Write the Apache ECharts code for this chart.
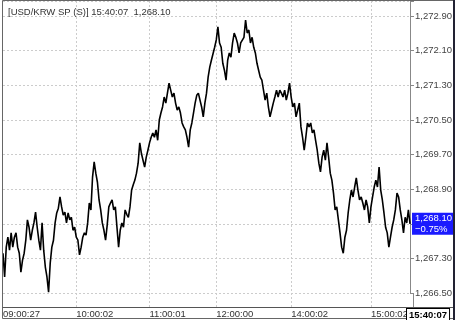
<!DOCTYPE html>
<html>
<head>
<meta charset="utf-8">
<script src="https://cdn.jsdelivr.net/npm/echarts@6/dist/echarts.min.js"></script>
<style>
html,body{margin:0;padding:0;background:#fff;}
#chart{width:455px;height:320px;}
</style>
</head>
<body>
<div id="chart"></div>
<script>
const titleText = '[USD/KRW SP (S)] 15:40:07  1,268.10';
const lastTime = '15:40:07';
const lastValueText = '1,268.10';
const changeText = '\u22120.75%';

const tickIndex = [0, 45, 90, 131, 177, 226];
const tickLabels = ['09:00:27', '10:00:02', '11:00:01', '12:00:00', '14:00:02', '15:00:02'];

const yMin = 1266.5;
const yMax = 1273.25;
const yStep = 0.8;

const prices = [
  1267.42,1266.87,1267.56,1267.79,1267.49,1267.89,1267.56,1267.79,1267.89,1267.56,
  1267.42,1266.98,1267.26,1267.42,1267.72,1268.19,1268.02,1267.72,1267.95,1268.12,
  1268.37,1268.02,1267.72,1267.49,1268.12,1267.49,1267.10,1266.87,1266.52,1267.19,
  1267.56,1267.72,1268.12,1268.35,1268.46,1268.72,1268.49,1268.30,1268.37,1268.12,
  1268.35,1268.19,1268.25,1267.95,1268.02,1267.79,1267.72,1267.38,1267.56,1267.79,
  1267.89,1267.84,1268.12,1268.58,1268.42,1269.18,1269.53,1269.27,
  1269.06,1268.65,1268.42,1268.12,1267.95,1267.72,1268.07,1268.49,1268.58,1268.65,
  1268.42,1268.49,1268.02,1267.56,1267.95,1268.12,1268.02,1268.42,1268.32,1268.25,
  1268.49,1268.88,1269.00,1269.11,1269.27,1269.50,1269.97,1269.73,1269.57,1269.41,
  1269.64,1269.80,1269.97,1270.10,1270.20,1270.10,1270.27,1270.03,1270.50,1270.66,
  1270.80,1271.03,1270.89,1271.12,1271.35,1271.19,1271.03,1271.12,1270.89,1270.73,
  1270.80,1270.66,1270.43,1270.34,1270.27,1270.10,1269.87,1270.27,1270.43,1270.66,
  1270.89,1271.07,1271.12,1270.96,1270.80,1270.57,1270.89,
  1271.12,1271.49,1271.72,1271.88,1271.88,1272.18,1272.35,1272.65,1272.28,1272.18,
  1271.81,1271.65,1271.42,1271.88,1272.05,1271.95,1272.28,1272.51,1272.41,1272.28,
  1272.05,1272.28,1272.28,1272.41,1272.81,1272.51,1272.58,1272.28,1272.41,1272.18,
  1272.05,1271.81,1271.65,1271.49,1271.42,1271.19,1270.96,1271.12,1270.80,1270.57,
  1270.73,1270.89,1271.03,1271.19,1271.03,1271.19,1271.12,1271.03,1271.19,1270.96,
  1271.12,1271.35,1271.03,1270.80,1270.89,1270.57,1270.73,1270.89,1270.34,1270.10,
  1269.80,
  1270.10,1270.43,1270.34,1270.43,1270.20,1270.27,1270.03,1269.80,1269.50,1269.30,
  1269.64,1269.80,1269.57,1269.97,1269.64,1269.27,1269.11,1268.81,1268.42,1268.49,
  1268.19,1267.89,1267.56,1267.42,1267.79,1267.95,1268.35,1268.65,1268.88,1268.72,
  1268.95,1269.16,1268.88,1268.65,1268.72,1268.58,1268.42,1268.65,1268.49,1268.12,
  1268.49,1268.72,1268.95,1269.11,1268.95,1269.41,1268.88,1268.65,1268.35,1268.02,
  1267.89,1267.56,1267.79,1268.02,1268.19,1268.42,1268.81,1268.72,1268.42,1268.19,
  1267.89,1268.25,1268.12,1268.42,1268.10
];

const categories = prices.map((_, i) => String(i));
const FONT = "'Liberation Sans', Arial, sans-serif";

function fmt(v) {
  return v.toLocaleString('en-US', {minimumFractionDigits: 2, maximumFractionDigits: 2});
}
function isTick(idx) { return tickIndex.indexOf(idx) >= 0; }
function isGrid(idx) { return idx > 0 && tickIndex.indexOf(idx) >= 0; }

const chart = echarts.init(document.getElementById('chart'), null, {renderer: 'canvas'});
chart.setOption({
  animation: false,
  backgroundColor: '#fff',
  title: {
    text: titleText,
    left: 3, top: 2,
    textStyle: {fontSize: 9.5, fontWeight: 'normal', color: '#333', fontFamily: FONT}
  },
  grid: {left: 3, right: 42, top: 1, bottom: 27, containLabel: false},
  xAxis: {
    type: 'category',
    data: categories,
    boundaryGap: false,
    offset: 14,
    axisLine: {show: true, lineStyle: {color: '#555', width: 1}},
    axisTick: {show: true, inside: true, length: 14, interval: isGrid,
      lineStyle: {color: '#ccc', type: [2, 2]}},
    axisLabel: {
      interval: isTick,
      align: 'left',
      margin: 2,
      fontSize: 9.5, color: '#333', fontFamily: FONT,
      formatter: function (v, i) {
        const k = tickIndex.indexOf(Number(v));
        return k >= 0 ? tickLabels[k] : '';
      }
    },
    splitLine: {show: true, interval: isGrid, lineStyle: {color: '#ccc', type: [2, 2]}}
  },
  yAxis: {
    type: 'value',
    position: 'right',
    min: yMin, max: yMax, interval: yStep,
    axisLine: {show: true, lineStyle: {color: '#888'}},
    axisTick: {show: true, length: 4, lineStyle: {color: '#888'}},
    axisLabel: {
      margin: 5, fontSize: 9.5, color: '#444', fontFamily: FONT,
      formatter: function (v) {
        const r = (v - yMin) / yStep;
        return Math.abs(r - Math.round(r)) < 0.01 ? fmt(v) : '';
      }
    },
    splitLine: {show: true, lineStyle: {color: '#ccc', type: [2, 2]}}
  },
  series: [{
    type: 'line',
    data: prices,
    showSymbol: false,
    lineStyle: {color: '#000', width: 1.6},
    endLabel: {
      show: true,
      distance: 2,
      formatter: lastValueText + '\n' + changeText,
      backgroundColor: '#1a1aff',
      color: '#fff',
      fontSize: 9.5,
      lineHeight: 11,
      fontFamily: FONT,
      padding: [0, 4, 0, 3],
      width: 36,
      align: 'left'
    },
    z: 3
  }],
  graphic: [
    {type: 'rect', shape: {x: 2.5, y: 0.5, width: 451, height: 318}, style: {fill: 'none', stroke: '#666', lineWidth: 1}, z: 10},
    {type: 'line', shape: {x1: 413.5, y1: 293, x2: 413.5, y2: 307}, style: {stroke: '#888', lineWidth: 1}, z: 10},
    {type: 'line', shape: {x1: 2.5, y1: 307.5, x2: 454, y2: 307.5}, style: {stroke: '#555', lineWidth: 1}, z: 10},
    {type: 'rect', shape: {x: 453, y: 0, width: 2, height: 320}, style: {fill: '#223'}, z: 11},
    {type: 'text', left: 406, top: 308,
      style: {text: lastTime, fontSize: 9.5, fontWeight: 'bold', fill: '#000', fontFamily: FONT,
        backgroundColor: '#fff', borderColor: '#000', borderWidth: 1, padding: [1, 2, 0, 2]}, z: 12}
  ]
});
</script>
</body>
</html>
